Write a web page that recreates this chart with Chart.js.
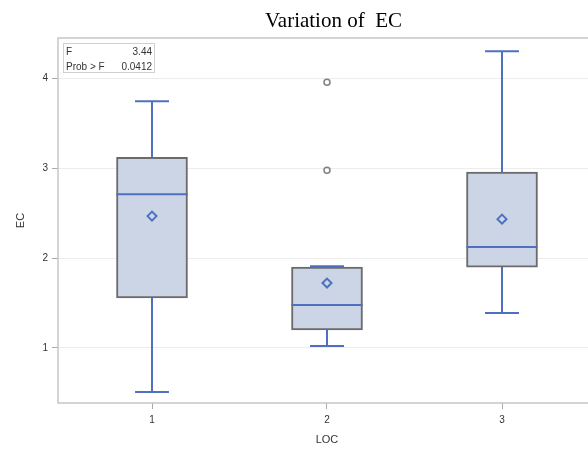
<!DOCTYPE html>
<html>
<head>
<meta charset="utf-8">
<script src="https://cdn.jsdelivr.net/npm/chart.js@4"></script>
<style>
  html, body { margin: 0; padding: 0; background: #ffffff; overflow: hidden; }
  #wrap { width: 588px; height: 449px; position: relative; overflow: hidden; }
  #c { position: absolute; left: 0; top: 0; }
</style>
</head>
<body>
<div id="wrap"><canvas id="c" width="596" height="449" style="width:596px;height:449px"></canvas></div>
<script>
// ---- data ----
const categories   = [1, 2, 3];
const categoryText = ['1', '2', '3'];
const q1Values     = [1.556, 1.200, 1.900];
const medianValues = [2.711, 1.478, 2.122];
const q3Values     = [3.122, 1.900, 2.956];
const whiskerLow   = [0.511, 1.022, 1.389];
const whiskerHigh  = [3.744, 1.910, 4.300];
const meanValues   = [2.467, 1.722, 2.433];
const outlierLoc   = [2, 2];
const outlierValue = [3.956, 2.978];
const yTickValues  = [1, 2, 3, 4];
const titleText    = 'Variation of  EC';
const statLabels   = ['F', 'Prob > F'];
const statValues   = ['3.44', '0.0412'];

// ---- style constants ----
const BLUE = '#4f70c0';
const BOX_FILL = '#cbd5e6';
const BOX_EDGE = '#6b6b6b';
const AXIS = '#c6c6c6';
const CAP_HALF = 0.097;   // half width of whisker caps in x units
const BOX_HALF = 0.203;   // half width of box in x units

// build line data with gaps
const gap = c => ({ x: c, y: null });
const whiskerData = [];
const medianData = [];
categories.forEach((c, i) => {
  whiskerData.push({ x: c, y: q3Values[i] }, { x: c, y: whiskerHigh[i] }, gap(c));
  whiskerData.push({ x: c - CAP_HALF, y: whiskerHigh[i] }, { x: c + CAP_HALF, y: whiskerHigh[i] }, gap(c));
  whiskerData.push({ x: c, y: q1Values[i] }, { x: c, y: whiskerLow[i] }, gap(c));
  whiskerData.push({ x: c - CAP_HALF, y: whiskerLow[i] }, { x: c + CAP_HALF, y: whiskerLow[i] }, gap(c));
  medianData.push({ x: c - BOX_HALF, y: medianValues[i] }, { x: c + BOX_HALF, y: medianValues[i] }, gap(c));
});

const decor = {
  id: 'decor',
  afterDraw(chart) {
    const { ctx, chartArea: a } = chart;
    ctx.save();
    // frame
    ctx.strokeStyle = AXIS;
    ctx.lineWidth = 1.5;
    ctx.strokeRect(a.left, a.top, a.right - a.left, a.bottom - a.top);
    // title
    ctx.fillStyle = '#000';
    ctx.font = '21px "Liberation Serif", "Times New Roman", serif';
    ctx.textAlign = 'center';
    ctx.textBaseline = 'alphabetic';
    ctx.fillText(titleText, 333.5, 27);
    // stats inset
    ctx.fillStyle = '#ffffff';
    ctx.fillRect(63, 43, 92, 30);
    ctx.strokeStyle = '#d0d0d0';
    ctx.lineWidth = 1;
    ctx.strokeRect(63.5, 43.5, 91, 29);
    ctx.fillStyle = '#333';
    ctx.font = '10px "Liberation Sans", Arial, sans-serif';
    statLabels.forEach((s, i) => {
      ctx.textAlign = 'left';
      ctx.fillText(s, 66, 55 + i * 15);
      ctx.textAlign = 'right';
      ctx.fillText(statValues[i], 152, 55 + i * 15);
    });
    ctx.restore();
  }
};

new Chart(document.getElementById('c'), {
  type: 'bar',
  data: {
    datasets: [
      {
        type: 'bar',
        data: categories.map((c, i) => ({ x: c, y: [q1Values[i], q3Values[i]] })),
        backgroundColor: BOX_FILL,
        borderColor: BOX_EDGE,
        borderWidth: 2,
        borderSkipped: false,
        barThickness: 71,
        order: 10
      },
      {
        type: 'line',
        data: medianData,
        borderColor: BLUE,
        borderWidth: 2,
        pointRadius: 0,
        spanGaps: false,
        fill: false,
        order: 5
      },
      {
        type: 'line',
        data: whiskerData,
        borderColor: BLUE,
        borderWidth: 2,
        pointRadius: 0,
        spanGaps: false,
        fill: false,
        order: 4
      },
      {
        type: 'scatter',
        data: categories.map((c, i) => ({ x: c, y: meanValues[i] })),
        pointStyle: 'rectRot',
        pointRadius: 4.5,
        borderColor: BLUE,
        borderWidth: 2,
        backgroundColor: 'rgba(0,0,0,0)',
        order: 1
      },
      {
        type: 'scatter',
        data: outlierLoc.map((c, i) => ({ x: c, y: outlierValue[i] })),
        pointStyle: 'circle',
        pointRadius: 3,
        borderColor: '#808080',
        borderWidth: 1.5,
        backgroundColor: 'rgba(0,0,0,0)',
        order: 1
      }
    ]
  },
  options: {
    responsive: false,
    animation: false,
    events: [],
    layout: { autoPadding: false, padding: { left: 0, top: 38, right: 0, bottom: 0 } },
    plugins: { legend: { display: false }, tooltip: { enabled: false }, title: { display: false } },
    scales: {
      x: {
        type: 'linear',
        offset: false,
        min: 1 - 94 / 175,
        max: 3 + 94 / 175,
        afterBuildTicks: s => { s.ticks = categories.map(v => ({ value: v })); },
        afterFit: s => { s.height = 46; },
        ticks: {
          autoSkip: false,
          maxRotation: 0,
          padding: 5,
          color: '#333',
          font: { family: '"Liberation Sans", Arial, sans-serif', size: 10 },
          callback: v => categoryText[categories.indexOf(v)]
        },
        grid: { offset: false, drawOnChartArea: false, drawTicks: true, tickLength: 6, tickColor: '#aaaaaa' },
        border: { display: false },
        title: {
          display: true, text: 'LOC', color: '#333',
          font: { family: '"Liberation Sans", Arial, sans-serif', size: 11 },
          padding: { top: 0, bottom: 2 }
        }
      },
      y: {
        min: 0.388,
        max: 4.448,
        afterBuildTicks: s => { s.ticks = yTickValues.map(v => ({ value: v })); },
        afterFit: s => { s.width = 58; },
        ticks: {
          padding: 4,
          color: '#333',
          font: { family: '"Liberation Sans", Arial, sans-serif', size: 10 },
          callback: v => String(v)
        },
        grid: { color: '#ececec', lineWidth: 1, drawTicks: true, tickLength: 6, tickColor: '#aaaaaa' },
        border: { display: false },
        title: {
          display: true, text: 'EC', color: '#333',
          font: { family: '"Liberation Sans", Arial, sans-serif', size: 11 },
          padding: { top: 14, bottom: 0 }
        }
      }
    }
  },
  plugins: [decor]
});
</script>
</body>
</html>
